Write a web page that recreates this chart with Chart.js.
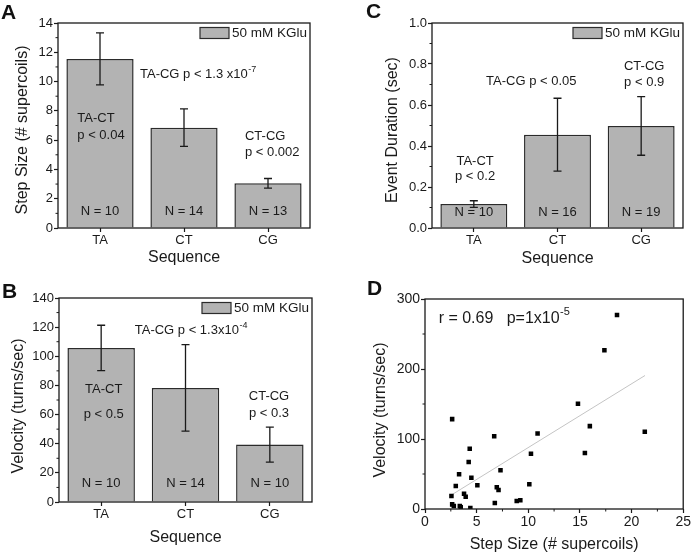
<!DOCTYPE html>
<html>
<head>
<meta charset="utf-8">
<script src="https://cdn.jsdelivr.net/npm/chart.js@4.4.0/dist/chart.umd.min.js"></script>
<style>
  body { margin: 0; background: #fff; width: 692px; height: 555px; position: relative; overflow: hidden; font-family: "Liberation Sans", Arial, sans-serif; }
  .pane { position: absolute; }
  .letra { position: absolute; font-weight: bold; font-size: 21px; line-height: 1; color: #111; }
</style>
</head>
<body>
<div class="pane" style="left:0;top:0"><canvas id="chartA" width="346" height="278"></canvas></div>
<div class="pane" style="left:346px;top:0"><canvas id="chartC" width="346" height="278"></canvas></div>
<div class="pane" style="left:0;top:278px"><canvas id="chartB" width="346" height="277"></canvas></div>
<div class="pane" style="left:346px;top:278px"><canvas id="chartD" width="346" height="277"></canvas></div>
<div class="letra" style="left:1px;top:1px">A</div>
<div class="letra" style="left:2px;top:280px">B</div>
<div class="letra" style="left:366px;top:0px">C</div>
<div class="letra" style="left:367px;top:277px">D</div>
<script>
// categories
const sequences = ["TA", "CT", "CG"];

// A - step size
const stepMean = [11.55, 6.85, 3.05];
const stepErr = [1.77, 1.28, 0.33];
const stepN = ["N = 10", "N = 14", "N = 13"];

// B - velocity
const velMean = [105.7, 78.3, 39.4];
const velErr = [15.6, 29.7, 12.0];
const velN = ["N = 10", "N = 14", "N = 10"];

// C - event duration
const durMean = [0.117, 0.455, 0.498];
const durErr = [0.016, 0.178, 0.143];
const durN = ["N = 10", "N = 16", "N = 19"];

// D - velocity vs step size
const scatStep = [18.59, 17.37, 14.81, 15.96, 21.28, 15.48, 10.9, 10.26, 10.1, 6.7,
  2.63, 4.33, 4.23, 3.3, 4.49, 7.31, 5.07, 2.98, 6.95, 7.12,
  3.78, 3.94, 2.56, 2.63, 2.79, 3.37, 3.46, 4.39, 6.76, 8.88, 9.23];
const scatVel = [277.2, 226.8, 150.2, 118.4, 110.3, 79.9, 108, 78.9, 35.2, 104,
  128.4, 86, 67, 49.5, 44.7, 55.2, 33.8, 32.8, 31, 27.1,
  21.8, 17.6, 18.5, 6.6, 4.3, 4.3, 2.4, 1.4, 8.6, 11.4, 12.4];
const fitStep = [2.6, 21.3];
const fitVel = [20.4, 190.7];

const FONT = "'Liberation Sans', Arial, sans-serif";
const BAR_FILL = "#b3b3b3";
const INK = "#1a1a1a";

function drawSupText(ctx, x, y, main, sup, align, size) {
  ctx.font = size + "px " + FONT;
  const w1 = ctx.measureText(main).width;
  let w2 = 0;
  if (sup) {
    ctx.font = Math.round(size * 0.68) + "px " + FONT;
    w2 = ctx.measureText(sup).width;
  }
  let x0 = x;
  if (align === "center") x0 = x - (w1 + w2) / 2;
  if (align === "right") x0 = x - (w1 + w2);
  ctx.textAlign = "left";
  ctx.textBaseline = "middle";
  ctx.font = size + "px " + FONT;
  ctx.fillText(main, x0, y);
  if (sup) {
    ctx.font = Math.round(size * 0.68) + "px " + FONT;
    ctx.fillText(sup, x0 + w1 + 0.5, y - size * 0.38);
  }
}

const errorBars = {
  id: "errorBars",
  afterDatasetsDraw(chart, args, opts) {
    if (!opts.errors) return;
    const ctx = chart.ctx;
    const meta = chart.getDatasetMeta(0);
    const y = chart.scales.y;
    const vals = chart.data.datasets[0].data;
    ctx.save();
    ctx.strokeStyle = INK;
    ctx.lineWidth = 1.3;
    meta.data.forEach(function (bar, i) {
      const top = y.getPixelForValue(vals[i] + opts.errors[i]);
      const bot = y.getPixelForValue(vals[i] - opts.errors[i]);
      ctx.beginPath();
      ctx.moveTo(bar.x, top);
      ctx.lineTo(bar.x, bot);
      ctx.moveTo(bar.x - 4, top);
      ctx.lineTo(bar.x + 4, top);
      ctx.moveTo(bar.x - 4, bot);
      ctx.lineTo(bar.x + 4, bot);
      ctx.stroke();
    });
    ctx.restore();
  },
};

const decor = {
  id: "decor",
  afterDraw(chart, args, opts) {
    const ctx = chart.ctx;
    const a = chart.chartArea;
    const xs = chart.scales.x;
    const ys = chart.scales.y;
    ctx.save();
    // frame
    ctx.strokeStyle = INK;
    ctx.lineWidth = 1.3;
    ctx.strokeRect(a.left, a.top, a.right - a.left, a.bottom - a.top);
    // minor ticks
    ctx.lineWidth = 1;
    ctx.beginPath();
    if (opts.minorY) {
      for (let v = ys.min + opts.minorY; v < ys.max; v += opts.minorY * 2) {
        const py = ys.getPixelForValue(v);
        ctx.moveTo(a.left, py);
        ctx.lineTo(a.left - 2.5, py);
      }
    }
    if (opts.minorX) {
      for (let v = xs.min + opts.minorX; v < xs.max; v += opts.minorX * 2) {
        const px = xs.getPixelForValue(v);
        ctx.moveTo(px, a.bottom);
        ctx.lineTo(px, a.bottom + 2.5);
      }
    }
    ctx.stroke();
    // legend
    if (opts.legend) {
      ctx.fillStyle = BAR_FILL;
      ctx.fillRect(a.right - 110, a.top + 4.5, 29, 11);
      ctx.strokeStyle = "#2b2b2b";
      ctx.lineWidth = 1.2;
      ctx.strokeRect(a.right - 110, a.top + 4.5, 29, 11);
      ctx.fillStyle = INK;
      drawSupText(ctx, a.right - 78, a.top + 10.5, opts.legend, "", "left", 13.5);
    }
    // y title
    if (opts.yTitle) {
      ctx.save();
      ctx.translate(opts.yTitle.x, opts.yTitle.y);
      ctx.rotate(-Math.PI / 2);
      ctx.fillStyle = INK;
      ctx.font = "16px " + FONT;
      ctx.textAlign = "center";
      ctx.textBaseline = "middle";
      ctx.fillText(opts.yTitle.text, 0, 0);
      ctx.restore();
    }
    // notes
    ctx.fillStyle = INK;
    (opts.notes || []).forEach(function (n) {
      drawSupText(ctx, xs.getPixelForValue(n.x), ys.getPixelForValue(n.y), n.t, n.sup, n.align || "center", n.size || 13);
    });
    (opts.counts || []).forEach(function (t, i) {
      drawSupText(ctx, xs.getPixelForValue(i), ys.getPixelForValue(opts.countY), t, "", "center", 13);
    });
    ctx.restore();
  },
};

function barChart(id, means, errs, counts, box, yAxis, xTitlePad, extra) {
  const canvas = document.getElementById(id);
  return new Chart(canvas.getContext("2d"), {
    type: "bar",
    data: {
      labels: sequences,
      datasets: [
        {
          data: means,
          backgroundColor: BAR_FILL,
          borderColor: "#2b2b2b",
          borderWidth: 1.5,
          barPercentage: 0.8,
          categoryPercentage: 1.0,
        },
      ],
    },
    options: {
      responsive: false,
      animation: false,
      events: [],
      layout: { padding: { top: box.top, right: box.right, left: 0, bottom: 0 } },
      scales: {
        x: {
          grid: { display: true, drawOnChartArea: false, offset: false, tickLength: 4, color: INK, tickWidth: 1.2 },
          border: { display: false },
          ticks: { color: INK, padding: 1, font: { size: 13, family: FONT } },
          title: { display: true, text: "Sequence", color: INK, font: { size: 16, family: FONT }, padding: { top: 0, bottom: xTitlePad } },
          afterFit: function (s) { s.height = box.xh; },
        },
        y: {
          min: yAxis.min,
          max: yAxis.max,
          grid: { drawOnChartArea: false, tickLength: 4, color: INK, tickWidth: 1.2 },
          border: { display: false },
          ticks: {
            stepSize: yAxis.step,
            color: INK,
            padding: 1,
            font: { size: 13, family: FONT },
            callback: yAxis.fmt || function (v) { return v; },
          },
          afterFit: function (s) { s.width = box.yw; },
        },
      },
      plugins: {
        legend: { display: false },
        tooltip: { enabled: false },
        errorBars: { errors: errs },
        decor: Object.assign({ legend: "50 mM KGlu", minorY: yAxis.step / 2, counts: counts }, extra),
      },
    },
    plugins: [errorBars, decor],
  });
}

function getChartA() {
  barChart("chartA", stepMean, stepErr, stepN,
    { top: 23, right: 36, yw: 58, xh: 50 },
    { min: 0, max: 14, step: 2 }, 11,
    {
      countY: 1.1,
      yTitle: { text: "Step Size (# supercoils)", x: 23, y: 130 },
      notes: [
        { t: "TA-CG p < 1.3 x10", sup: "-7", x: 0.476, y: 10.5, align: "left" },
        { t: "TA-CT", x: -0.27, y: 7.45, align: "left" },
        { t: "p < 0.04", x: -0.27, y: 6.3, align: "left" },
        { t: "CT-CG", x: 1.726, y: 6.28, align: "left" },
        { t: "p < 0.002", x: 1.726, y: 5.19, align: "left" },
      ],
    });
}

function getChartB() {
  barChart("chartB", velMean, velErr, velN,
    { top: 20, right: 34, yw: 59, xh: 53 },
    { min: 0, max: 140, step: 20 }, 8,
    {
      countY: 12.5,
      yTitle: { text: "Velocity (turns/sec)", x: 18.3, y: 128 },
      notes: [
        { t: "TA-CG p < 1.3x10", sup: "-4", x: 0.398, y: 117.6, align: "left" },
        { t: "TA-CT", x: 0.03, y: 77.4 },
        { t: "p < 0.5", x: 0.03, y: 60 },
        { t: "CT-CG", x: 1.99, y: 72.2 },
        { t: "p < 0.3", x: 1.99, y: 60.7 },
      ],
    });
}

function getChartC() {
  barChart("chartC", durMean, durErr, durN,
    { top: 23, right: 9, yw: 86, xh: 50 },
    { min: 0, max: 1, step: 0.2, fmt: function (v) { return Number(v).toFixed(1); } }, 10,
    {
      countY: 0.075,
      yTitle: { text: "Event Duration (sec)", x: 46.7, y: 130 },
      notes: [
        { t: "TA-CT", x: 0.015, y: 0.327 },
        { t: "p < 0.2", x: 0.015, y: 0.25 },
        { t: "TA-CG p < 0.05", x: 0.687, y: 0.714 },
        { t: "CT-CG", x: 2.036, y: 0.787 },
        { t: "p < 0.9", x: 2.036, y: 0.711 },
      ],
    });
}

function getChartD() {
  const canvas = document.getElementById("chartD");
  const pontos = scatStep.map(function (x, i) { return { x: x, y: scatVel[i] }; });
  const ajuste = fitStep.map(function (x, i) { return { x: x, y: fitVel[i] }; });
  return new Chart(canvas.getContext("2d"), {
    type: "scatter",
    data: {
      datasets: [
        {
          data: pontos,
          pointStyle: "rect",
          pointRadius: 3.2,
          pointBorderWidth: 0,
          backgroundColor: "#000000",
          borderColor: "#000000",
        },
        {
          type: "line",
          data: ajuste,
          showLine: true,
          pointRadius: 0,
          borderColor: "#c4c4c4",
          borderWidth: 1,
        },
      ],
    },
    options: {
      responsive: false,
      animation: false,
      events: [],
      layout: { padding: { top: 21, right: 7, left: 0, bottom: 0 } },
      scales: {
        x: {
          type: "linear",
          min: 0,
          max: 25,
          grid: { drawOnChartArea: false, tickLength: 4, color: INK, tickWidth: 1.2 },
          border: { display: false },
          ticks: { stepSize: 5, color: INK, padding: 1, font: { size: 14, family: FONT } },
          title: { display: true, text: "Step Size (# supercoils)", color: INK, font: { size: 16, family: FONT }, padding: { top: 0, bottom: 1 } },
          afterFit: function (s) { s.height = 46; },
        },
        y: {
          min: 0,
          max: 300,
          grid: { drawOnChartArea: false, tickLength: 4, color: INK, tickWidth: 1.2 },
          border: { display: false },
          ticks: { stepSize: 100, color: INK, padding: 1, font: { size: 14, family: FONT } },
          afterFit: function (s) { s.width = 79; },
        },
      },
      plugins: {
        legend: { display: false },
        tooltip: { enabled: false },
        decor: {
          minorX: 2.5,
          minorY: 50,
          yTitle: { text: "Velocity (turns/sec)", x: 35, y: 132 },
          notes: [{ t: "r = 0.69   p=1x10", sup: "-5", x: 1.32, y: 272.5, align: "left", size: 16 }],
        },
      },
    },
    plugins: [decor],
  });
}

getChartA();
getChartB();
getChartC();
getChartD();
</script>
</body>
</html>
